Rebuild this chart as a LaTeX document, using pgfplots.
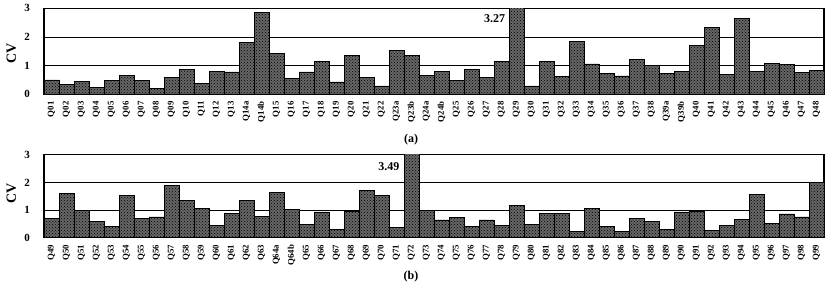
\documentclass[border=0pt]{standalone}
\usepackage{fontspec}
\setmainfont{Liberation Serif}
\usepackage{pgfplots}
\pgfplotsset{compat=1.18}
\usetikzlibrary{patterns}
\begin{document}
\begin{tikzpicture}
\pgfplotsset{
  cvstyle/.style={
    scale only axis,
    width=780pt,
    xmin=-0.5, xmax=51.5,
    ymin=0, ymax=3,
    ytick={0,1,2,3},
    xtick=data,
    major tick length=0pt,
    ymajorgrids,
    grid style={black, line width=0.9pt},
    axis line style={black, line width=1.3pt},
    ybar, bar width=15pt,
    /pgf/number format/assume math mode=true,
    yticklabel style={font=\fontsize{11}{12}\selectfont\bfseries, inner sep=0pt},
    yticklabel shift=14pt,
    xticklabel style={rotate=90, anchor=east, font=\fontsize{8.8}{9}\selectfont\bfseries, inner sep=0pt},
    xticklabel shift=7pt,
    ylabel={CV},
    ylabel style={font=\fontsize{14}{15}\selectfont\bfseries, anchor=center},
    clip=true,
  },
  cvbar/.style={draw=black, line width=0.8pt, fill=black!60,
    postaction={pattern=crosshatch dots, pattern color=black}},
}
\path[use as bounding box] (-44pt,-191.7pt) rectangle (786pt,94.3pt);
\begin{axis}[cvstyle, height=86pt, at={(0pt,0pt)}, anchor=south west,
  ylabel style={at={(axis description cs:-0.042,0.47)}},
  xticklabels={Q01,Q02,Q03,Q04,Q05,Q06,Q07,Q08,Q09,Q10,Q11,Q12,Q13,Q14a,Q14b,Q15,Q16,Q17,Q18,Q19,Q20,Q21,Q22,Q23a,Q23b,Q24a,Q24b,Q25,Q26,Q27,Q28,Q29,Q30,Q31,Q32,Q33,Q34,Q35,Q36,Q37,Q38,Q39a,Q39b,Q40,Q41,Q42,Q43,Q44,Q45,Q46,Q47,Q48}]
\addplot[cvbar] coordinates {
(0,0.50) (1,0.33) (2,0.44) (3,0.24) (4,0.48) (5,0.66) (6,0.49) (7,0.20) (8,0.59) (9,0.88)
(10,0.38) (11,0.79) (12,0.78) (13,1.80) (14,2.85) (15,1.41) (16,0.55) (17,0.78) (18,1.14) (19,0.43)
(20,1.34) (21,0.59) (22,0.29) (23,1.53) (24,1.36) (25,0.67) (26,0.80) (27,0.48) (28,0.87) (29,0.60)
(30,1.16) (31,3.27) (32,0.29) (33,1.14) (34,0.63) (35,1.83) (36,1.06) (37,0.73) (38,0.64) (39,1.22)
(40,1.01) (41,0.74) (42,0.79) (43,1.70) (44,2.33) (45,0.69) (46,2.65) (47,0.79) (48,1.08) (49,1.05)
(50,0.76) (51,0.83)};
\node[anchor=east, font=\fontsize{12}{13}\selectfont\bfseries, inner sep=0pt] at (axis cs:30.25,2.63) {3.27};
\end{axis}
\node[font=\fontsize{12}{13}\selectfont\bfseries] at (367pt,-45.7pt) {(a)};
\begin{axis}[cvstyle, height=83pt, at={(0pt,-143.4pt)}, anchor=south west,
  ylabel style={at={(axis description cs:-0.042,0.53)}},
  xticklabels={Q49,Q50,Q51,Q52,Q53,Q54,Q55,Q56,Q57,Q58,Q59,Q60,Q61,Q62,Q63,Q64a,Q64b,Q65,Q66,Q67,Q68,Q69,Q70,Q71,Q72,Q73,Q74,Q75,Q76,Q77,Q78,Q79,Q80,Q81,Q82,Q83,Q84,Q85,Q86,Q87,Q88,Q89,Q90,Q91,Q92,Q93,Q94,Q95,Q96,Q97,Q98,Q99}]
\addplot[cvbar] coordinates {
(0,0.71) (1,1.60) (2,0.98) (3,0.58) (4,0.41) (5,1.54) (6,0.71) (7,0.75) (8,1.90) (9,1.35)
(10,1.05) (11,0.45) (12,0.87) (13,1.34) (14,0.77) (15,1.63) (16,1.01) (17,0.48) (18,0.93) (19,0.29)
(20,0.94) (21,1.72) (22,1.54) (23,0.36) (24,3.49) (25,1.00) (26,0.64) (27,0.73) (28,0.41) (29,0.64)
(30,0.43) (31,1.17) (32,0.48) (33,0.87) (34,0.87) (35,0.23) (36,1.05) (37,0.40) (38,0.21) (39,0.70)
(40,0.60) (41,0.29) (42,0.93) (43,0.96) (44,0.27) (45,0.45) (46,0.66) (47,1.55) (48,0.51) (49,0.86)
(50,0.75) (51,2.00)};
\node[anchor=east, font=\fontsize{12}{13}\selectfont\bfseries, inner sep=0pt] at (axis cs:23.2,2.57) {3.49};
\end{axis}
\node[font=\fontsize{12}{13}\selectfont\bfseries] at (367pt,-182.7pt) {(b)};
\end{tikzpicture}
\end{document}
